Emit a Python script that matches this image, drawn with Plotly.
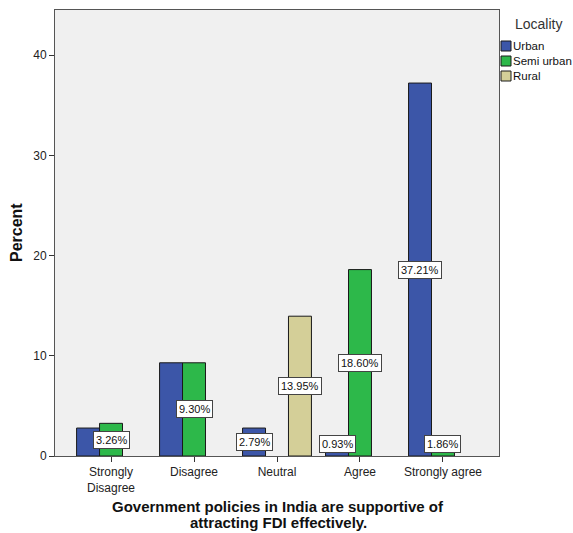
import plotly.graph_objects as go

# Response categories and percentage shares by locality (None = no respondents)
categories = ["Strongly<br>Disagree", "Disagree", "Neutral", "Agree", "Strongly agree"]
urban = [2.79, 9.30, 2.79, 0.93, 37.21]
semi_urban = [3.26, 9.30, None, 18.60, 1.86]
rural = [None, None, 13.95, None, None]

# Which bars carry a value label (others are hidden where labels collide)
urban_labeled = [False, False, True, True, True]
semi_labeled = [True, True, False, True, True]
rural_labeled = [False, False, True, False, False]

series = [
    ("Urban", urban, urban_labeled, "#3C56A8"),
    ("Semi urban", semi_urban, semi_labeled, "#2DB84A"),
    ("Rural", rural, rural_labeled, "#D4CF98"),
]

x_title_lines = [
    "Government policies in India are supportive of",
    "attracting FDI effectively.",
]

W, H = 573, 533
M = dict(l=55, r=74, t=10, b=77)
PW, PH = W - M["l"] - M["r"], H - M["t"] - M["b"]

BARGAP = 0.17
slot = (1 - BARGAP) / len(series)
x_idx = list(range(len(categories)))

fig = go.Figure()
for name, vals, _, color in series:
    fig.add_trace(go.Bar(
        name=name, x=x_idx, y=vals, showlegend=False,
        marker=dict(color=color, line=dict(color="#1a1a1a", width=1)),
    ))

# Boxed value labels, centred on the bar, kept clear of the baseline
for s, (name, vals, labeled, _) in enumerate(series):
    offset = (s - (len(series) - 1) / 2) * slot
    for i, v in enumerate(vals):
        if not labeled[i] or v is None:
            continue
        fig.add_annotation(
            x=i + offset, y=max(v / 2, 1.15), xref="x", yref="y",
            text=f"{v:.2f}%", showarrow=False,
            font=dict(family="Arial, Liberation Sans", size=11, color="#111"),
            bgcolor="white", bordercolor="#444", borderwidth=1, borderpad=2,
        )


def px_x(px):
    return (px - M["l"]) / PW


def px_y(py):
    return 1 - (py - M["t"]) / PH


# Compact legend to the right of the plot frame
fig.add_annotation(
    x=px_x(513), y=px_y(24), xref="paper", yref="paper",
    text="Locality", showarrow=False, xanchor="left", yanchor="middle",
    font=dict(size=14, color="#333"),
)
for k, (name, _, _, color) in enumerate(series):
    cy = 46 + 15 * k
    fig.add_shape(
        type="rect", xref="paper", yref="paper",
        x0=px_x(501), x1=px_x(511), y0=px_y(cy + 5), y1=px_y(cy - 5),
        fillcolor=color, line=dict(color="#1a1a1a", width=1),
    )
    fig.add_annotation(
        x=px_x(511), y=px_y(cy), xref="paper", yref="paper",
        text=name, showarrow=False, xanchor="left", yanchor="middle",
        font=dict(size=11.5, color="#111"),
    )

# Axis titles
fig.add_annotation(
    x=px_x(16), y=0.5, xref="paper", yref="paper", textangle=-90,
    text="<b>Percent</b>", showarrow=False, xanchor="center", yanchor="middle",
    font=dict(size=16, color="#111"),
)
for k, line in enumerate(x_title_lines):
    fig.add_annotation(
        x=px_x(278), y=px_y(506 + 16 * k), xref="paper", yref="paper",
        text=f"<b>{line}</b>", showarrow=False,
        xanchor="center", yanchor="middle",
        font=dict(size=15, color="#111"),
    )

fig.update_layout(
    width=W, height=H, margin=M,
    paper_bgcolor="white", plot_bgcolor="#F0F0F0",
    barmode="group", bargap=BARGAP, bargroupgap=0,
    font=dict(family="Arial, Liberation Sans", size=12, color="#333"),
    showlegend=False,
    xaxis=dict(
        tickmode="array", tickvals=x_idx, ticktext=categories,
        range=[-0.675, len(categories) - 1 + 0.675],
        showline=True, linecolor="#555", linewidth=1, mirror=True,
        ticks="outside", ticklen=5, tickcolor="#333",
        tickfont=dict(size=12, color="#222"),
        showgrid=False, zeroline=False, automargin=False,
    ),
    yaxis=dict(
        range=[0, 44.5], tickvals=[0, 10, 20, 30, 40],
        showline=True, linecolor="#555", linewidth=1, mirror=True,
        ticks="outside", ticklen=5, tickcolor="#333",
        tickfont=dict(size=12, color="#222"),
        showgrid=False, zeroline=False, automargin=False,
    ),
)

fig.write_html("out.html")
